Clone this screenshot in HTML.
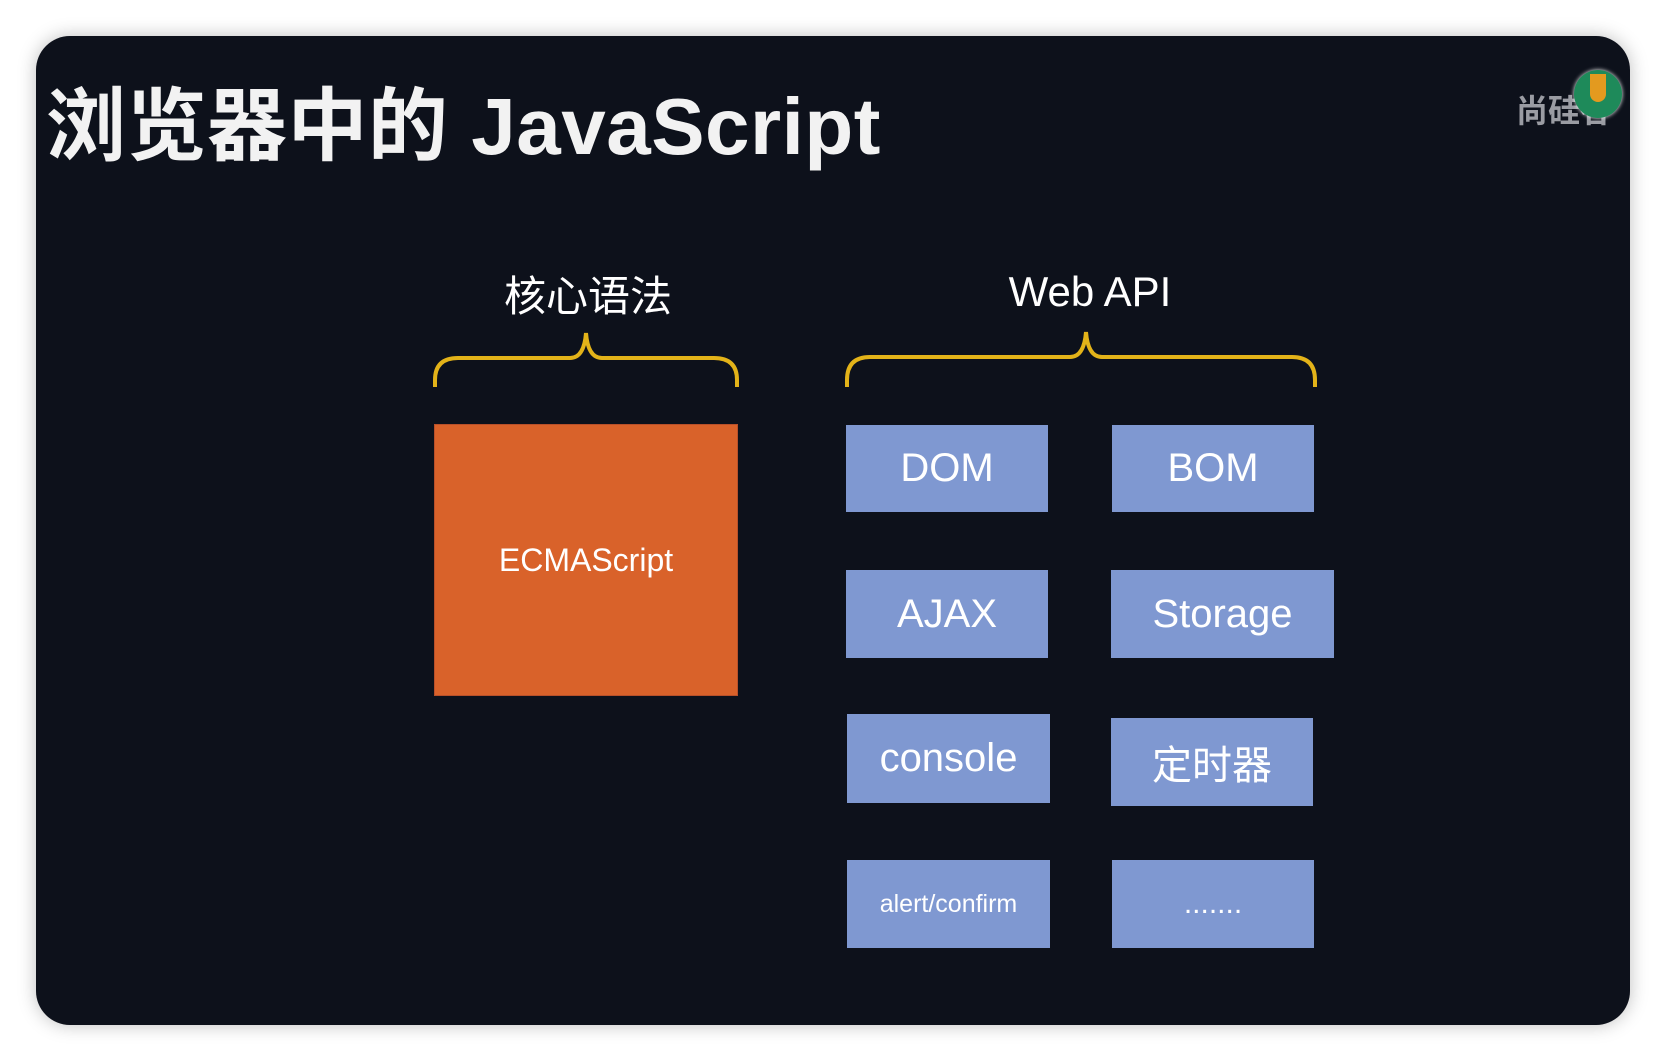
<!DOCTYPE html>
<html><head><meta charset="utf-8"><style>
html,body{margin:0;padding:0;width:1666px;height:1062px;background:#fff;overflow:hidden}
#p{position:absolute;left:36px;top:36px;width:1594px;height:989px;background:#0d111b;border-radius:34px;box-shadow:0 0 18px rgba(0,0,0,0.25);overflow:hidden}
.t{position:absolute;font-family:"Liberation Sans","Noto Sans CJK SC",sans-serif;color:#fff;white-space:nowrap}
.b{position:absolute;background:#7f98d1;color:#fff;font-family:"Liberation Sans","Noto Sans CJK SC",sans-serif;font-size:40px;display:flex;align-items:center;justify-content:center}
</style></head><body>
<div id="p"></div>
<div class="t" style="left:46px;top:62px;font-size:80px;font-weight:bold;color:#f2f2f2;letter-spacing:0.5px">浏览器中的 JavaScript</div>
<div class="t" style="left:1516px;top:86px;font-size:32px;font-weight:bold;color:#9a9ca3">尚硅谷</div>
<div style="position:absolute;left:1574px;top:70px;width:48px;height:48px;border-radius:50%;background:#1e8a5a;box-shadow:0 0 4px #fff"><div style="position:absolute;left:16px;top:4px;width:16px;height:28px;background:#e39a1f;border-radius:0 0 8px 8px"></div></div>
<div class="t" style="left:504px;top:263px;width:160px;text-align:center;font-size:42px">核心语法</div>
<div class="t" style="left:990px;top:268px;width:200px;text-align:center;font-size:42px">Web API</div>
<svg style="position:absolute;left:0;top:0" width="1666" height="1062">
<g fill="none" stroke="#e3b319" stroke-width="4">
<path d="M435 387 V380 Q435 358 458 358 H570 Q584 358 586 333 Q588 358 602 358 H714 Q737 358 737 380 V387"/>
<path d="M847 387 V380 Q847 357 870 357 H1070 Q1084 357 1086 332 Q1088 357 1102 357 H1292 Q1315 357 1315 380 V387"/>
</g></svg>
<div class="b" style="left:434px;top:424px;width:304px;height:272px;background:#d9622a;font-size:32px;box-shadow:inset 0 0 0 1px #b8502a">ECMAScript</div>
<div class="b" style="left:846px;top:425px;width:202px;height:87px">DOM</div>
<div class="b" style="left:1112px;top:425px;width:202px;height:87px">BOM</div>
<div class="b" style="left:846px;top:570px;width:202px;height:88px">AJAX</div>
<div class="b" style="left:1111px;top:570px;width:223px;height:88px">Storage</div>
<div class="b" style="left:847px;top:714px;width:203px;height:89px">console</div>
<div class="b" style="left:1111px;top:718px;width:202px;height:88px">定时器</div>
<div class="b" style="left:847px;top:860px;width:203px;height:88px;font-size:25px">alert/confirm</div>
<div class="b" style="left:1112px;top:860px;width:202px;height:88px;font-size:30px">.......</div>
</body></html>
